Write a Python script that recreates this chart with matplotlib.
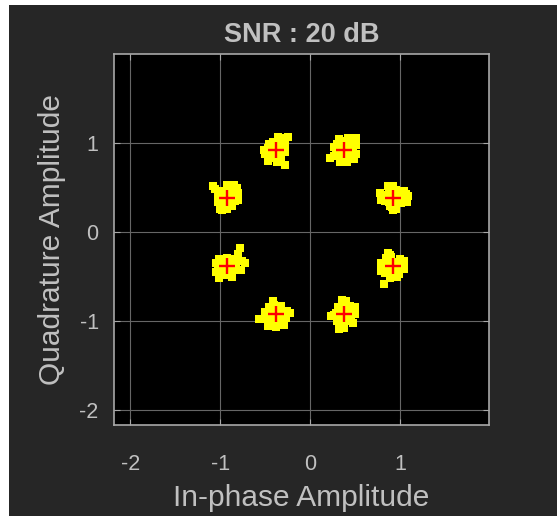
import matplotlib
matplotlib.use("Agg")
import matplotlib.pyplot as plt
from matplotlib.patches import Rectangle

plt.rcParams['font.family'] = ['Liberation Sans', 'DejaVu Sans']
plt.rcParams['axes.unicode_minus'] = False

# 8-PSK reference constellation (red crosses)
ref_i = [0.924, 0.383, -0.383, -0.924, -0.924, -0.383, 0.383, 0.924]
ref_q = [0.383, 0.924, 0.924, 0.383, -0.383, -0.924, -0.924, -0.383]

# received symbols, offsets from each reference point
cloud_4 = [(0.00, 0.00), (-0.05, 0.01), (0.05, 0.00), (0.00, 0.05), (0.01, -0.05), (-0.05, 0.06),
           (0.05, 0.05), (-0.05, -0.05), (0.06, -0.05), (-0.10, 0.03), (0.10, 0.01), (-0.03, 0.10),
           (0.03, 0.09), (-0.01, -0.10), (-0.09, -0.04), (0.09, -0.06), (-0.06, 0.13), (0.00, 0.13),
           (-0.15, 0.05), (-0.14, -0.02), (0.17, 0.02), (0.14, 0.04), (0.15, -0.05), (0.00, -0.14),
           (0.03, -0.12), (-0.04, -0.09), (0.12, 0.08)]
cloud_2 = [(0.00, 0.00), (-0.04, 0.02), (0.05, 0.01), (0.00, 0.06), (0.01, -0.05), (-0.05, -0.04),
           (0.05, 0.06), (0.06, -0.05), (-0.09, 0.00), (0.09, -0.01), (-0.04, 0.09), (0.03, 0.10),
           (-0.02, -0.10), (-0.08, 0.06), (0.08, 0.07), (-0.08, -0.07), (0.07, -0.09), (-0.06, 0.12),
           (0.04, 0.13), (-0.16, -0.09), (-0.12, -0.07), (0.13, 0.05), (0.13, -0.05), (0.11, -0.10),
           (0.13, 0.13), (-0.05, -0.14), (0.03, -0.14), (-0.12, 0.03)]
cloud_1 = [(0.00, 0.00), (-0.05, 0.01), (0.05, -0.01), (0.01, 0.05), (-0.02, -0.05), (0.04, 0.05),
           (-0.06, -0.04), (0.06, -0.05), (-0.09, 0.02), (0.09, 0.02), (0.02, 0.09), (-0.03, 0.09),
           (0.00, -0.09), (-0.07, 0.06), (0.07, 0.08), (-0.05, -0.09), (0.05, -0.10), (0.03, 0.14),
           (0.07, 0.13), (-0.13, 0.00), (-0.12, -0.05), (0.11, -0.03), (0.11, 0.06), (-0.09, -0.13),
           (0.01, -0.14), (0.06, -0.14), (0.14, 0.14), (0.10, -0.17)]
cloud_3 = [(0.00, 0.00), (-0.05, 0.00), (0.05, 0.02), (0.02, 0.06), (-0.01, -0.05), (0.05, -0.04),
           (-0.05, 0.06), (-0.06, -0.06), (0.09, 0.06), (0.09, -0.03), (0.03, 0.10), (-0.02, -0.10),
           (0.06, -0.09), (-0.08, -0.09), (-0.07, 0.08), (0.00, 0.15), (0.08, 0.14), (0.11, 0.11),
           (-0.10, 0.02), (-0.10, -0.05), (-0.15, 0.13), (-0.13, 0.10), (0.12, 0.06), (0.12, -0.02),
           (-0.05, -0.14), (0.00, -0.13), (-0.08, -0.12), (0.05, 0.11)]
cloud_5 = [(0.00, 0.00), (-0.05, 0.01), (0.05, 0.01), (0.01, 0.05), (0.00, -0.05), (-0.05, -0.05),
           (0.05, -0.05), (-0.06, 0.06), (0.06, 0.06), (-0.10, -0.02), (0.10, 0.02), (0.00, 0.09),
           (-0.03, -0.10), (0.04, -0.09), (-0.09, 0.08), (0.09, 0.08), (0.10, -0.04), (0.15, 0.20),
           (0.12, 0.13), (0.20, 0.03), (0.17, 0.06), (0.16, -0.04), (-0.12, 0.03), (-0.12, -0.07),
           (-0.09, -0.14), (-0.08, -0.10), (0.06, -0.12)]
cloud_7 = [(0.00, 0.00), (-0.05, 0.00), (0.05, 0.01), (0.00, 0.05), (0.00, -0.05), (-0.05, 0.05),
           (0.05, 0.05), (-0.05, -0.05), (0.05, -0.05), (-0.09, 0.02), (0.10, 0.00), (-0.02, 0.10),
           (0.03, -0.10), (-0.07, -0.09), (0.08, -0.08), (-0.07, 0.08), (0.06, 0.09), (-0.03, 0.15),
           (-0.12, 0.02), (-0.11, -0.05), (-0.18, -0.06), (0.16, 0.01), (0.13, 0.04), (-0.09, -0.13),
           (0.00, -0.14), (0.09, -0.12), (0.12, -0.04)]
cloud_8 = [(0.00, 0.00), (-0.05, 0.01), (0.05, 0.00), (0.00, 0.05), (0.00, -0.05), (-0.05, 0.06),
           (0.05, 0.05), (-0.05, -0.05), (0.05, -0.05), (-0.09, 0.01), (0.09, 0.02), (0.00, 0.10),
           (-0.02, -0.10), (-0.08, -0.08), (0.07, -0.08), (-0.07, 0.08), (0.06, 0.09), (-0.03, 0.16),
           (0.02, 0.15), (-0.12, -0.01), (-0.15, -0.02), (0.12, 0.08), (0.12, 0.00), (0.10, -0.10),
           (-0.06, -0.17), (0.00, -0.16), (-0.03, -0.13)]
cloud_6 = [(0.00, 0.00), (-0.05, 0.00), (0.05, 0.01), (-0.01, 0.05), (0.00, -0.05), (-0.05, 0.05),
           (0.05, 0.05), (-0.05, -0.05), (0.05, -0.05), (-0.10, 0.01), (0.09, -0.01), (-0.02, 0.10),
           (0.02, -0.09), (-0.09, -0.08), (0.08, 0.08), (-0.08, 0.09), (-0.06, 0.15), (-0.04, 0.12),
           (-0.14, 0.03), (-0.14, -0.06), (0.12, 0.06), (0.12, -0.03), (-0.03, -0.13), (0.04, -0.12),
           (-0.10, -0.20), (0.07, -0.09)]
clouds = [cloud_4, cloud_2, cloud_1, cloud_3, cloud_5, cloud_7, cloud_8, cloud_6]

ticks = [-2, -1, 0, 1]

bg = '#262626'
txt = '#c0c0c0'

fig = plt.figure(figsize=(5.57, 5.16), dpi=100, facecolor='white')
fig.patches.append(Rectangle((9 / 557, 0), 1 - 9 / 557, 1 - 5 / 516, transform=fig.transFigure,
                             facecolor=bg, edgecolor='none', zorder=-10))
ax = fig.add_axes([114 / 557, 1 - 425 / 516, 375 / 557, 371 / 516])
ax.set_facecolor('black')

for (ci, cq), pts in zip(zip(ref_i, ref_q), clouds):
    xs = [ci + d[0] for d in pts]
    ys = [cq + d[1] for d in pts]
    ax.plot(xs, ys, 's', color='#ffff00', markersize=5.2, markeredgewidth=0, zorder=2)

ax.plot(ref_i, ref_q, '+', color='#ff0000', markersize=12, markeredgewidth=1.7, zorder=3)

ax.set_xlim(-2.18, 1.99)
ax.set_ylim(-2.17, 2.0)
ax.set_xticks(ticks)
ax.set_yticks(ticks)
ax.grid(True, color='#666666', linewidth=0.8)
ax.set_axisbelow(True)
for s in ax.spines.values():
    s.set_color('#a8a8a8')
    s.set_linewidth(1.2)
ax.tick_params(direction='in', length=4, width=0.8, colors='#a8a8a8', labelcolor=txt,
               labelsize=15.5, top=True, right=True)
ax.tick_params(axis='x', pad=21)
ax.tick_params(axis='y', pad=11)

ax.set_title('SNR : 20 dB', color=txt, fontsize=19.5, fontweight='bold', pad=9)
ax.set_xlabel('In-phase Amplitude', color=txt, fontsize=21.5, labelpad=6)
ax.set_ylabel('Quadrature Amplitude', color=txt, fontsize=21.5, labelpad=10)

plt.savefig('out.png', dpi=100, facecolor=fig.get_facecolor())
